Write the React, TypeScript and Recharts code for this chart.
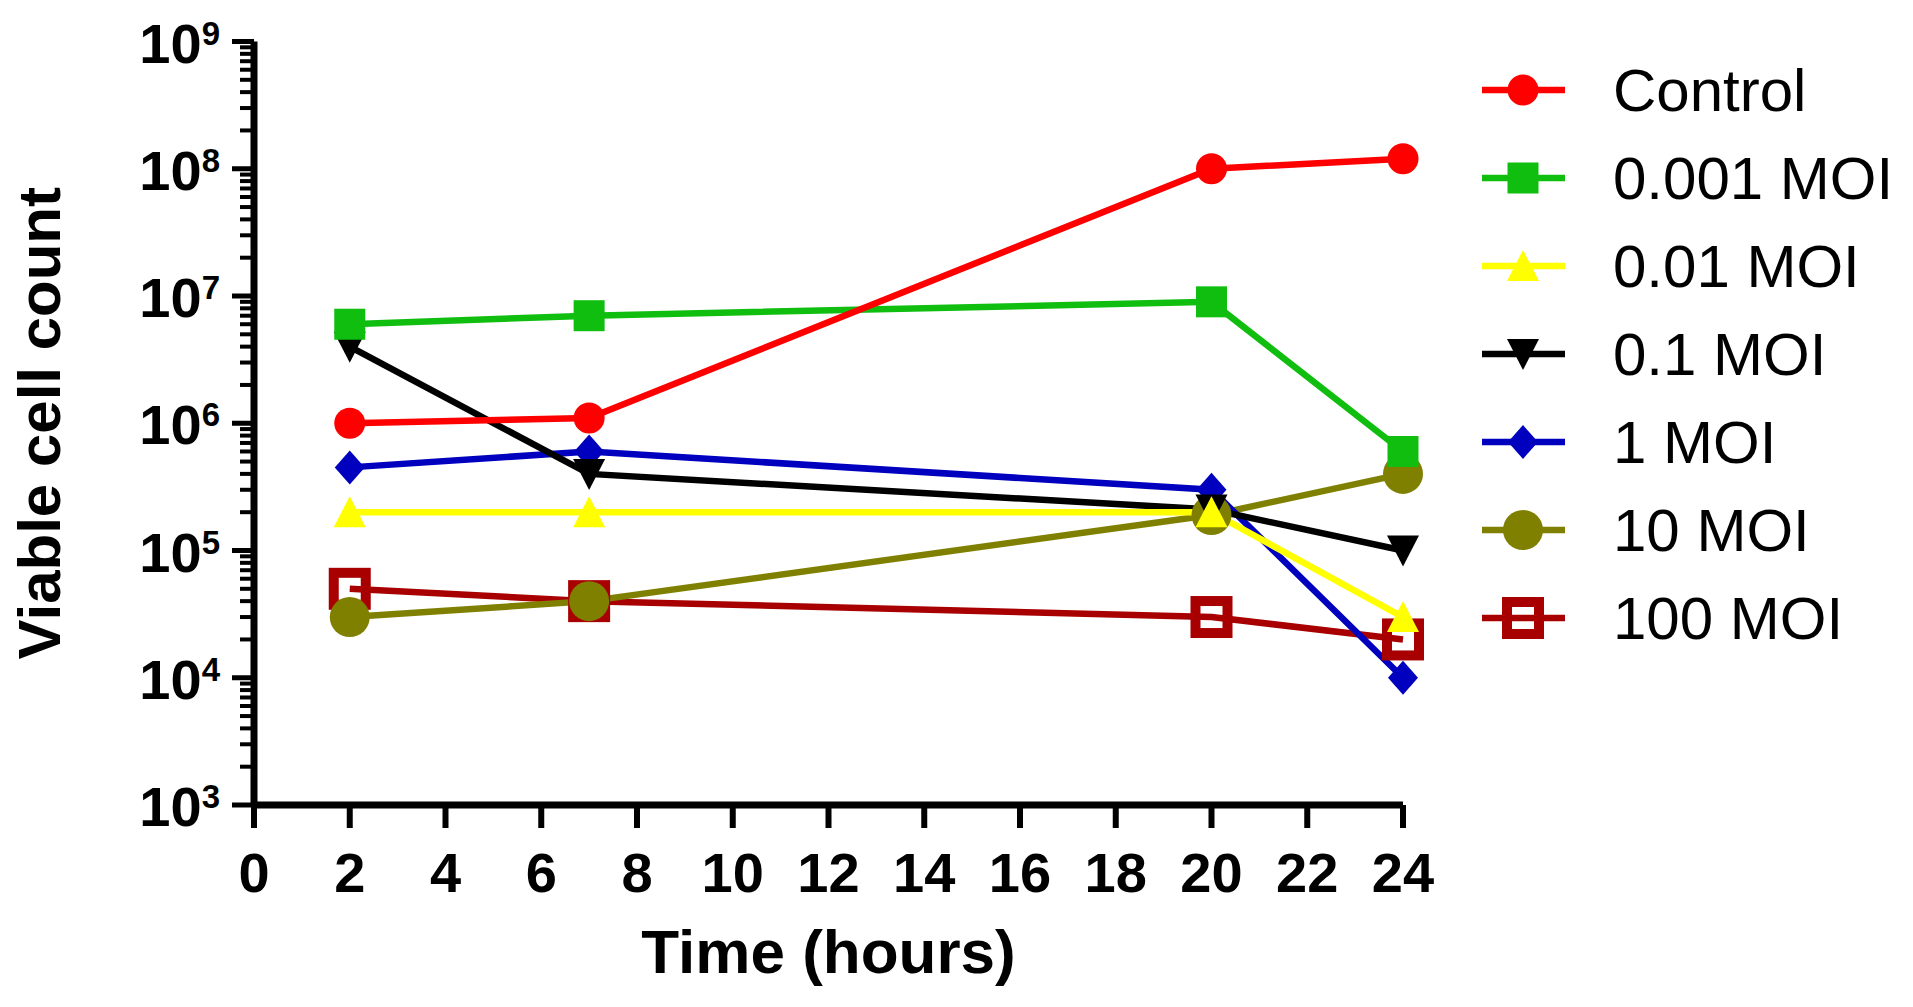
import React from 'react';
import { LineChart, Line, XAxis, YAxis, Legend } from 'recharts';

// Sampling times (hours)
const hours = [2, 7, 20, 24];

// Viable cell counts per condition at each sampling time
const control = [1.0e6, 1.1e6, 1.0e8, 1.2e8];
const moi0001 = [6.0e6, 7.0e6, 9.0e6, 6.0e5];
const moi001 = [2.0e5, 2.0e5, 2.0e5, 3.0e4];
const moi01 = [4.0e6, 4.0e5, 2.1e5, 1.0e5];
const moi1 = [4.5e5, 6.0e5, 3.0e5, 1.0e4];
const moi10 = [3.0e4, 4.0e4, 1.9e5, 4.0e5];
const moi100 = [5.0e4, 4.0e4, 3.0e4, 2.0e4];

// Axis ticks
const xTicks = [0, 2, 4, 6, 8, 10, 12, 14, 16, 18, 20, 22, 24];
const yExponents = [3, 4, 5, 6, 7, 8, 9];
const yMinorMultipliers = [2, 3, 4, 5, 6, 7, 8, 9];

const FONT = 'Arial, "Liberation Sans", Helvetica, sans-serif';
const LINE_W = 6.5;

type Shape = 'circle' | 'square' | 'triUp' | 'triDown' | 'diamond' | 'bigCircle' | 'hollowSquare';

interface SeriesDef {
  key: string;
  name: string;
  color: string;
  shape: Shape;
  values: number[];
}

const series: SeriesDef[] = [
  { key: 'control', name: 'Control', color: '#FF0000', shape: 'circle', values: control },
  { key: 'moi0001', name: '0.001 MOI', color: '#10BE10', shape: 'square', values: moi0001 },
  { key: 'moi001', name: '0.01 MOI', color: '#FFFF00', shape: 'triUp', values: moi001 },
  { key: 'moi01', name: '0.1 MOI', color: '#000000', shape: 'triDown', values: moi01 },
  { key: 'moi1', name: '1 MOI', color: '#0000BE', shape: 'diamond', values: moi1 },
  { key: 'moi10', name: '10 MOI', color: '#808000', shape: 'bigCircle', values: moi10 },
  { key: 'moi100', name: '100 MOI', color: '#A80000', shape: 'hollowSquare', values: moi100 },
];

const rows = hours.map((t, i) => {
  const row: Record<string, number> = { t };
  series.forEach((s) => {
    row[s.key] = s.values[i];
  });
  return row;
});

// Decade ticks plus 2..9 minor ticks inside each decade
const yTicks: number[] = [];
yExponents.forEach((e, i) => {
  yTicks.push(Math.pow(10, e));
  if (i < yExponents.length - 1) {
    yMinorMultipliers.forEach((m) => yTicks.push(m * Math.pow(10, e)));
  }
});

function Marker({ shape, color, cx, cy }: { shape: Shape; color: string; cx: number; cy: number }) {
  switch (shape) {
    case 'circle':
      return <circle cx={cx} cy={cy} r={15.5} fill={color} />;
    case 'square':
      return <rect x={cx - 15.5} y={cy - 15.5} width={31} height={31} fill={color} />;
    case 'triUp':
      return <polygon points={`${cx},${cy - 16} ${cx + 16},${cy + 15} ${cx - 16},${cy + 15}`} fill={color} />;
    case 'triDown':
      return <polygon points={`${cx},${cy + 16} ${cx + 16},${cy - 15} ${cx - 16},${cy - 15}`} fill={color} />;
    case 'diamond':
      return <polygon points={`${cx},${cy - 17} ${cx + 15},${cy} ${cx},${cy + 17} ${cx - 15},${cy}`} fill={color} />;
    case 'bigCircle':
      return <circle cx={cx} cy={cy} r={20} fill={color} />;
    case 'hollowSquare':
      return <rect x={cx - 16} y={cy - 16} width={32} height={32} fill="none" stroke={color} strokeWidth={10} />;
    default:
      return null;
  }
}

function YTick(props: any) {
  const { x, y, payload } = props;
  const v = payload.value as number;
  const exp = Math.round(Math.log10(v));
  const isMajor = Math.abs(Math.pow(10, exp) - v) < 1e-6 * v;
  if (!isMajor) {
    return <line x1={x - 14} x2={x} y1={y} y2={y} stroke="#000" strokeWidth={4} />;
  }
  return (
    <g>
      <line x1={x - 22} x2={x} y1={y} y2={y} stroke="#000" strokeWidth={5} />
      <text x={x - 34} y={y + 21} textAnchor="end" fontFamily={FONT} fontWeight="bold" fontSize={56} fill="#000">
        <tspan>10</tspan>
        <tspan dy={-18} fontSize={33}>{exp}</tspan>
      </text>
    </g>
  );
}

function XTick(props: any) {
  const { x, y, payload } = props;
  return (
    <text x={x} y={y + 64} textAnchor="middle" fontFamily={FONT} fontWeight="bold" fontSize={56} fill="#000">
      {payload.value}
    </text>
  );
}

function LegendBlock() {
  const rowY0 = 50;
  const rowGap = 88;
  return (
    <svg width={440} height={640} style={{ display: 'block', overflow: 'visible' }}>
      {series.map((s, i) => {
        const cy = rowY0 + i * rowGap;
        return (
          <g key={s.key}>
            <line x1={12} x2={95} y1={cy} y2={cy} stroke={s.color} strokeWidth={LINE_W} />
            <Marker shape={s.shape} color={s.color} cx={53} cy={cy} />
            <text x={143} y={cy + 21} fontFamily={FONT} fontSize={60} fill="#000">
              {s.name}
            </text>
          </g>
        );
      })}
    </svg>
  );
}

export default function App() {
  // Draw the last condition first so earlier conditions sit on top
  const drawOrder = [...series].reverse();
  return (
    <div style={{ position: 'absolute', left: 0, top: 0, background: '#fff' }}>
      <LineChart
        width={1913}
        height={1007}
        data={rows}
        margin={{ top: 41.5, right: 510, left: 0, bottom: 0 }}
      >
        <XAxis
          dataKey="t"
          type="number"
          domain={[0, 24]}
          ticks={xTicks}
          interval={0}
          height={202}
          tickSize={23}
          tickMargin={0}
          axisLine={{ stroke: '#000', strokeWidth: 7 }}
          tickLine={{ stroke: '#000', strokeWidth: 6 }}
          tick={<XTick />}
          label={{
            content: (p: any) => {
              const vb = p.viewBox;
              return (
                <text
                  x={vb.x + vb.width / 2}
                  y={vb.y + 168}
                  textAnchor="middle"
                  fontFamily={FONT}
                  fontWeight="bold"
                  fontSize={62}
                  fill="#000"
                >
                  Time (hours)
                </text>
              );
            },
          }}
        />
        <YAxis
          type="number"
          scale="log"
          domain={[1e3, 1e9]}
          ticks={yTicks}
          interval={0}
          allowDataOverflow
          width={254}
          tickSize={0}
          tickMargin={0}
          tickLine={false}
          axisLine={{ stroke: '#000', strokeWidth: 7 }}
          tick={<YTick />}
          label={{
            content: (p: any) => {
              const vb = p.viewBox;
              const cx = 60;
              const cy = vb.y + vb.height / 2;
              return (
                <text
                  x={cx}
                  y={cy}
                  transform={`rotate(-90, ${cx}, ${cy})`}
                  textAnchor="middle"
                  fontFamily={FONT}
                  fontWeight="bold"
                  fontSize={60}
                  fill="#000"
                >
                  Viable cell count
                </text>
              );
            },
          }}
        />
        <Legend
          content={() => <LegendBlock />}
          wrapperStyle={{ position: 'absolute', left: 1470, top: 40, width: 0, height: 0, overflow: 'visible' }}
        />
        {drawOrder.map((s) => (
          <Line
            key={s.key}
            dataKey={s.key}
            name={s.name}
            stroke={s.color}
            strokeWidth={LINE_W}
            isAnimationActive={false}
            activeDot={false}
            dot={(p: any) => (
              <Marker key={`${s.key}-${p.index}`} shape={s.shape} color={s.color} cx={p.cx} cy={p.cy} />
            )}
          />
        ))}
      </LineChart>
    </div>
  );
}
